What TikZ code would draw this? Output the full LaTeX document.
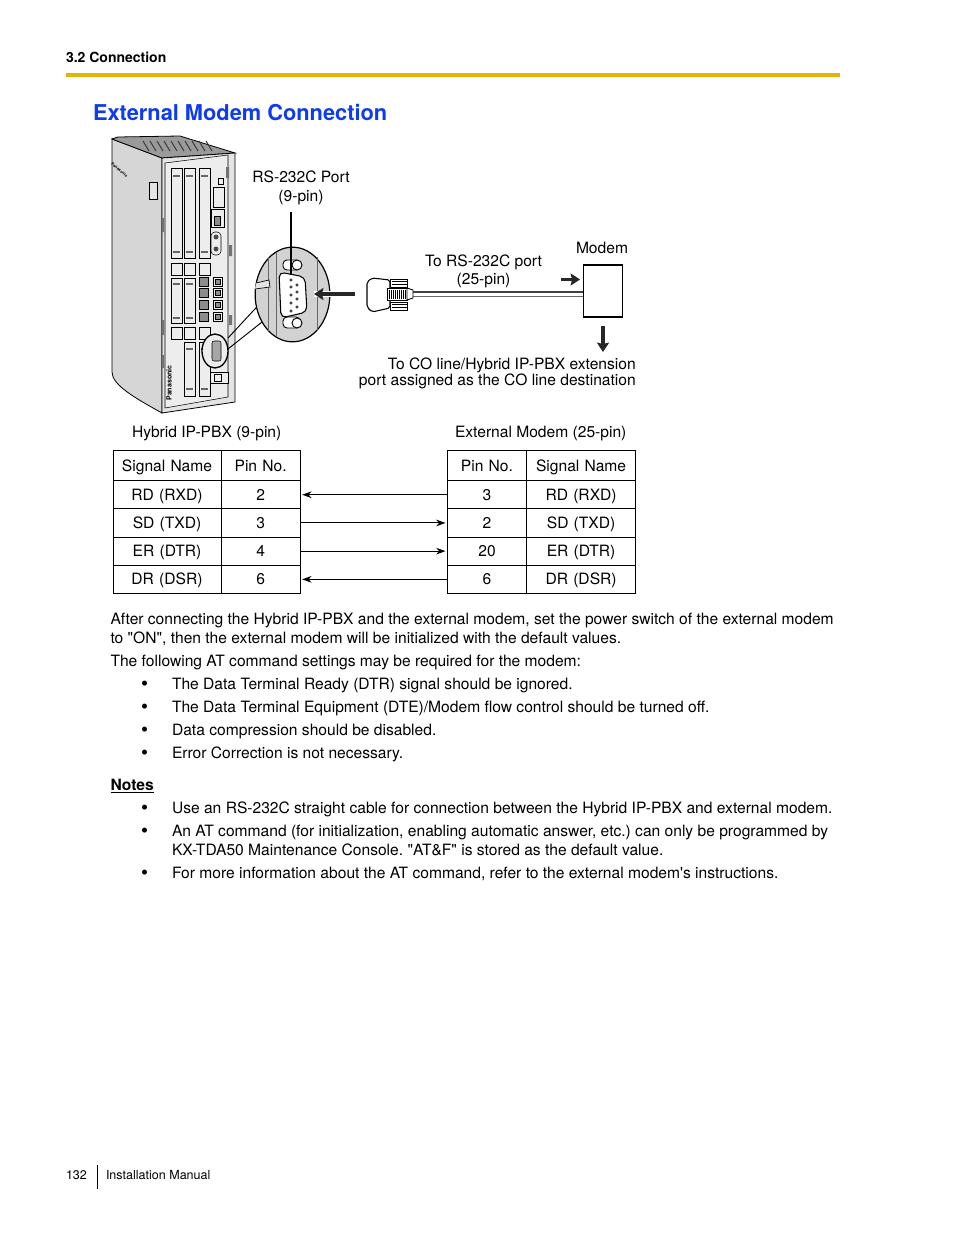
\documentclass[tikz,border=0pt]{standalone}
\usepackage{fontspec}
\setmainfont[Ligatures=TeXOff]{TeX Gyre Heros}
\usepackage{xcolor}
\definecolor{RuleGold}{HTML}{E3B505}
\definecolor{TitleBlue}{HTML}{0F3BEE}
\definecolor{SideGray}{HTML}{D6D6D6}
\definecolor{FrontGray}{HTML}{E4E4E4}
\definecolor{TopGray}{HTML}{9A9A9A}
\definecolor{PanelGray}{HTML}{EDEDED}
\definecolor{ZoomGray}{HTML}{D2D2D2}
\usetikzlibrary{arrows.meta, positioning, shapes.geometric}
\tikzset{
  txt/.style={inner sep=0pt, outer sep=0pt, font=\fontsize{11.7}{14.25}\selectfont\frenchspacing, align=left},
  lbl/.style={txt, anchor=base west},
  clbl/.style={txt, align=center},
  rlbl/.style={inner sep=0pt, font=\fontsize{11.7}{12.1}\selectfont, align=right},
  cell/.style={rectangle, draw, line width=0.75pt, inner sep=0pt, outer sep=0pt,
               font=\fontsize{11.7}{14}\selectfont, text width=#1, text height=10pt, text depth=1.6pt,
               align=center, minimum height=21.15pt},
  hcell/.style={cell=#1, minimum height=22.6pt},
  sig/.style={-{Stealth[length=7pt,width=5pt,inset=2.2pt]}, line width=0.75pt},
  fat/.style={-{Stealth[length=7pt,width=9pt,inset=1pt]}, line width=2.6pt, color=black!85},
  part/.style={draw, line width=0.4pt, fill=PanelGray},
  thin/.style={draw, line width=0.4pt},
  jack/.style={draw, line width=0.5pt, fill=black!45},
  bul/.style={lbl, font=\fontsize{15}{15}\selectfont, yshift=-1pt},
  tab/.style={fill=black!55},
}
\begin{document}
\begin{tikzpicture}[x=0.75pt, y=-0.75pt]
  \useasboundingbox (0,0) rectangle (954,1235);
  \fill[white] (0,0) rectangle (954,1235);

  % Header
  \node[lbl, font=\bfseries\fontsize{10.5}{12}\selectfont] (head) at (66,62) {3.2 Connection};
  \fill[RuleGold] (66,73) rectangle (840,77);
  \node[lbl, font=\bfseries\fontsize{16.35}{20}\selectfont, text=TitleBlue] (title) at (93,120) {External Modem Connection};

  % PBX cabinet
  \draw[thin, fill=SideGray, line width=0.6pt] (112,139) -- (162,158) -- (162,413) .. controls (135,398) and (112,385) .. (112,372) -- cycle;
  \draw[thin, fill=TopGray, line width=0.6pt] (112,139) -- (118,137) -- (180,136) -- (235,153) -- (162,158) -- cycle;
  \draw[thin, fill=FrontGray, line width=0.6pt] (162,158) -- (235,153) -- (235,402) -- (162,413) -- cycle;
  \draw[thin, fill=PanelGray] (165,163) -- (228,155) -- (228,397) -- (165,408) -- cycle;
  \foreach \i in {0,...,9} \draw[line width=0.8pt, black!75] ({143+\i*7},141) -- ({149+\i*7},151);
  \draw[thin, fill=FrontGray] (149,182) rectangle (157,199);
  \node[font=\bfseries\fontsize{3}{3}\selectfont, rotate=-40, inner sep=0pt] (brand) at (119.5,170) {Panasonic};
  \node[font=\bfseries\fontsize{5.3}{6}\selectfont, rotate=90, inner sep=0pt] (logo) at (169,383) {Panasonic};
  \fill[tab] (226,167) rectangle (229,178) (229,245) rectangle (232,256) (229,315) rectangle (232,325);
  \fill[tab] (162,218) rectangle (164,232) (162,320) rectangle (164,335) (162,355) rectangle (164,368);

  % Cards
  \foreach \x/\w in {171/11,184/11,199/11} {
    \draw[part] (\x,168) rectangle ++(\w,90);
    \draw[line width=0.9pt, black!60] (\x+2,176) -- ++(7,0);
    \draw[line width=0.9pt, black!60] (\x+2,252) -- ++(7,0);
    \draw[part] (\x,263) rectangle ++(\w,12);
    \draw[part] (\x,327) rectangle ++(\w,12);
  }
  \foreach \x in {171,184} {
    \draw[part] (\x,278) rectangle ++(11,45);
    \draw[line width=0.9pt, black!60] (\x+2,284) -- ++(7,0);
    \draw[line width=0.9pt, black!60] (\x+2,318) -- ++(7,0);
  }
  \foreach \x in {184,199} {
    \draw[part] (\x,342) rectangle ++(11,54);
    \draw[line width=0.9pt, black!60] (\x+2,349) -- ++(7,0);
    \draw[line width=0.9pt, black!60] (\x+2,389) -- ++(7,0);
  }
  % Jacks
  \foreach \y in {277,288,300,312} {
    \draw[jack] (199,\y) rectangle ++(9,9);
    \draw[part] (213,\y) rectangle ++(9,9);
    \draw[jack] (215,\y+2) rectangle ++(5,5);
  }
  \draw[part] (218,178) rectangle ++(5,6);
  \draw[part] (213,187) rectangle ++(11,20);
  \draw[part] (211,209) rectangle ++(13,18);
  \draw[jack] (214,216) rectangle ++(6,9);
  \draw[part, rounded corners=3pt] (211,232) rectangle ++(10,23);
  \fill[black!70] (216,237) circle (2.5) (216,249) circle (2.5);
  \draw[part] (210,372) rectangle ++(18,11);
  \draw[thin] (214,374) rectangle ++(7,7);

  % Small port circle and lead lines
  \node[ellipse, draw, line width=1pt, fill=PanelGray, inner sep=0pt, minimum width=19.5pt, minimum height=25.5pt] (smallport) at (215,351) {};
  \draw[part, rounded corners=1.5pt, fill=black!35] (212,341) rectangle (221,361);
  \node[ellipse, draw, line width=0.9pt, fill=ZoomGray, inner sep=0pt, minimum width=56pt, minimum height=71pt] (bigport) at (292.5,294.5) {};
  \draw[line width=0.7pt] (228,338) -- (bigport.200);
  \draw[line width=0.7pt] (228,349) -- (bigport.222);
  \draw[line width=0.5pt, black!60] (268,257) -- (268,331) (317,257) -- (317,331);
  \draw[line width=0.5pt, black!60] (276,253) -- (276,336);
  \draw[line width=0.5pt, fill=FrontGray] (256,283) -- (269,280) -- (270,287) -- (255,289);

  % 9-pin socket
  \draw[line width=0.7pt, fill=white, rounded corners=3pt] (283,260) rectangle (300,270);
  \draw[line width=0.7pt, fill=white] (297,265) circle (5);
  \draw[line width=0.7pt, fill=white, rounded corners=3pt] (283,317) rectangle (300,328);
  \draw[line width=0.7pt, fill=white] (297,323) circle (5);
  \draw[line width=0.8pt, fill=white, rounded corners=4pt] (279,272) -- (305,277) -- (307,312) -- (281,318) -- cycle;
  \foreach \y in {280,287,295,303,311} \draw[line width=0.4pt] (291,\y) circle (1.3);
  \foreach \y in {285,292,299,307} \draw[line width=0.4pt] (297,\y) circle (1.3);

  % RS-232C label and pointer
  \node[clbl] (rsport) at (301,187.5) {RS-232C Port\\(9-pin)};
  \coordinate (ptrtop) at (291,212);
  \coordinate (ptrend) at (291,275);
  \draw[line width=1pt] (ptrtop) -- (ptrend);

  % Plug direction
  \coordinate (plugfrom) at (355,294);
  \coordinate (plugto) at (314,294);
  \draw[white, line width=4.5pt] (plugfrom) -- (plugto);
  \draw[fat] (plugfrom) -- (plugto);

  % Modem
  \node[rectangle, draw, line width=1.1pt, minimum width=29.5pt, minimum height=39pt, inner sep=0pt] (modem) at (603,291) {};
  \node[clbl] (modemlbl) at (602,248) {Modem};
  \node[clbl, font=\fontsize{11.7}{13.6}\selectfont] (cablelbl) at (483.5,271) {To RS-232C port\\(25-pin)};
  \node[rlbl, anchor=east] (colbl) at (636,373) {To CO line/Hybrid IP-PBX extension\\port assigned as the CO line destination};
  \coordinate (inR) at (561,279.5);
  \coordinate (inL) at (580,279.5);
  \coordinate (outT) at (603,326);
  \coordinate (outB) at (603,352);
  \draw[fat] (inR) -- (inL);
  \draw[fat] (outT) -- (outB);

  % 25-pin plug and cable
  \coordinate (cableA) at (411,292);
  \coordinate (cableB) at (411,296.5);
  \draw[line width=1.4pt, black!75] (cableA) -- (cableA -| modem.west);
  \draw[line width=0.7pt, black!60] (cableB) -- (cableB -| modem.west);
  \draw[line width=0.7pt, fill=white] (390,279) rectangle (407,287);
  \draw[line width=0.7pt, fill=white] (390,302) rectangle (407,310);
  \foreach \y in {281.5,284,304.5,307} \draw[line width=0.4pt] (392,\y) -- (407,\y);
  \draw[line width=0.8pt, fill=white, rounded corners=1.5pt] (372,278) -- (390,280) -- (390,308) -- (372,312) -- (367,307) -- (367,282) -- cycle;
  \draw[line width=0.7pt, fill=white] (387,288) rectangle (407,300);
  \foreach \x in {389,391,...,405} \draw[line width=0.6pt] (\x,289.5) -- (\x,298.5);
  \draw[line width=0.7pt, fill=white] (407,288) -- (413,290) -- (413,298) -- (407,300) -- cycle;

  % Tables
  \node[lbl] (hybridlbl) at (132,437) {Hybrid IP-PBX (9-pin)};
  \node[lbl] (extlbl) at (455,437) {External Modem (25-pin)};

  \node[hcell=81pt, anchor=north west] (lsig) at (113,450.5) {Signal Name};
  \node[hcell=59.4pt, right=0pt of lsig] (lpin) {Pin No.};
  \node[cell=81pt, below=0pt of lsig] (l1a) {RD (RXD)};
  \node[cell=59.4pt, right=0pt of l1a] (l1b) {2};
  \node[cell=81pt, below=0pt of l1a] (l2a) {SD (TXD)};
  \node[cell=59.4pt, right=0pt of l2a] (l2b) {3};
  \node[cell=81pt, below=0pt of l2a] (l3a) {ER (DTR)};
  \node[cell=59.4pt, right=0pt of l3a] (l3b) {4};
  \node[cell=81pt, below=0pt of l3a] (l4a) {DR (DSR)};
  \node[cell=59.4pt, right=0pt of l4a] (l4b) {6};

  \node[hcell=59.25pt, anchor=north west] (rpin) at (447.5,450.5) {Pin No.};
  \node[hcell=81.9pt, right=0pt of rpin] (rsig) {Signal Name};
  \node[cell=59.25pt, below=0pt of rpin] (r1a) {3};
  \node[cell=81.9pt, right=0pt of r1a] (r1b) {RD (RXD)};
  \node[cell=59.25pt, below=0pt of r1a] (r2a) {2};
  \node[cell=81.9pt, right=0pt of r2a] (r2b) {SD (TXD)};
  \node[cell=59.25pt, below=0pt of r2a] (r3a) {20};
  \node[cell=81.9pt, right=0pt of r3a] (r3b) {ER (DTR)};
  \node[cell=59.25pt, below=0pt of r3a] (r4a) {6};
  \node[cell=81.9pt, right=0pt of r4a] (r4b) {DR (DSR)};

  \draw[sig] (r1a.west) -- ([xshift=1.5pt]l1b.east);
  \draw[sig] (l2b.east) -- ([xshift=-1.5pt]r2a.west);
  \draw[sig] (l3b.east) -- ([xshift=-1.5pt]r3a.west);
  \draw[sig] (r4a.west) -- ([xshift=1.5pt]l4b.east);

  % Body text
  \node[lbl] (para) at (110.5,643) {After connecting the Hybrid IP-PBX and the external modem, set the power switch of the external modem\\to "ON", then the external modem will be initialized with the default values.};
  \node[lbl] (lead) at (110.5,666) {The following AT command settings may be required for the modem:};
  \node[bul] (b1) at (141,689) {•};
  \node[lbl] (t1) at (172,689) {The Data Terminal Ready (DTR) signal should be ignored.};
  \node[bul] (b2) at (141,712) {•};
  \node[lbl] (t2) at (172,712) {The Data Terminal Equipment (DTE)/Modem flow control should be turned off.};
  \node[bul] (b3) at (141,735) {•};
  \node[lbl] (t3) at (172,735) {Data compression should be disabled.};
  \node[bul] (b4) at (141,758) {•};
  \node[lbl] (t4) at (172,758) {Error Correction is not necessary.};
  \node[lbl, font=\bfseries\fontsize{11.7}{14.25}\selectfont] (notes) at (110.5,790) {\underline{Notes}};
  \node[bul] (b5) at (141,813) {•};
  \node[lbl] (t5) at (172,813) {Use an RS-232C straight cable for connection between the Hybrid IP-PBX and external modem.};
  \node[bul] (b6) at (141,836) {•};
  \node[lbl] (t6) at (172,855) {An AT command (for initialization, enabling automatic answer, etc.) can only be programmed by\\KX-TDA50 Maintenance Console. "AT\&F" is stored as the default value.};
  \node[bul] (b7) at (141,878) {•};
  \node[lbl] (t7) at (172,878) {For more information about the AT command, refer to the external modem's instructions.};

  % Footer
  \node[lbl, font=\fontsize{9.4}{12}\selectfont] (pageno) at (66,1179) {132};
  \draw[line width=0.75pt] (97.5,1165) -- (97.5,1189);
  \node[lbl, font=\fontsize{9.4}{12}\selectfont] (manual) at (106,1179) {Installation Manual};
\end{tikzpicture}
\end{document}
